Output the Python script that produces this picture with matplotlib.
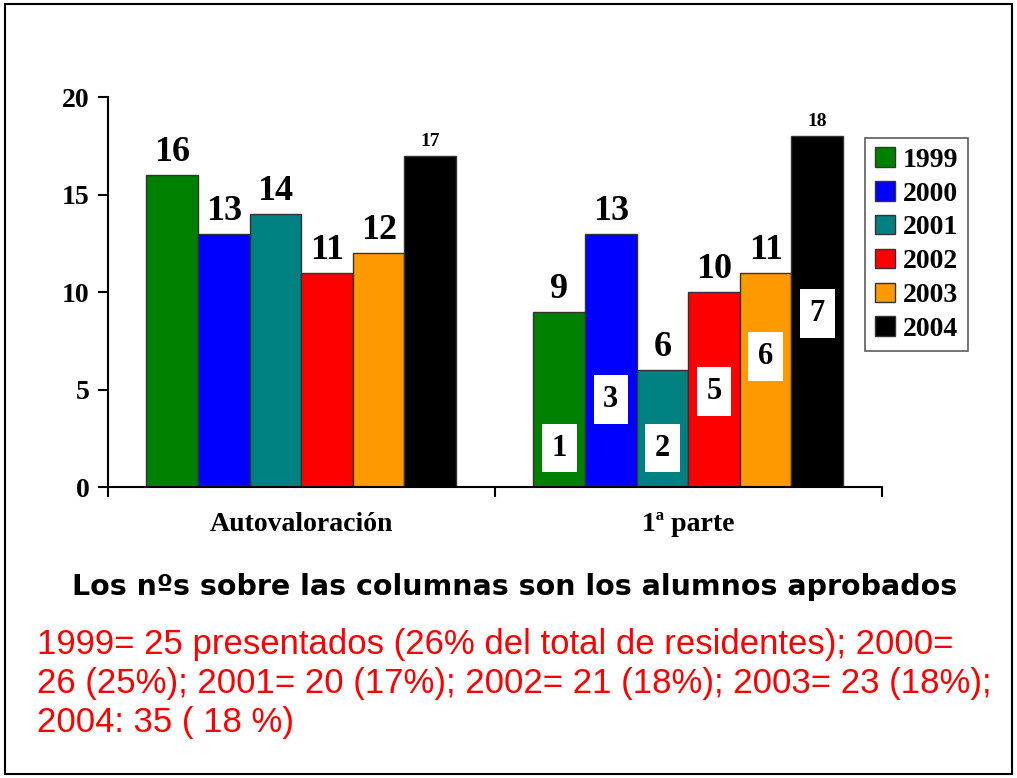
import matplotlib.pyplot as plt
from matplotlib.patches import Rectangle
import numpy as np

categories = ['Autovaloración', '1ª parte']
years = ['1999', '2000', '2001', '2002', '2003', '2004']
colors = ['#008000', '#0000FF', '#008080', '#FF0000', '#FF9900', '#000000']
autovaloracion = [16, 13, 14, 11, 12, 17]
primera_parte = [9, 13, 6, 10, 11, 18]
# numbers in the white boxes inside the "1a parte" bars, and their heights
box_labels = ['1', '3', '2', '5', '6', '7']
box_heights = [2.0, 4.5, 2.0, 4.9, 6.7, 8.9]

serif = 'Liberation Serif'

fig = plt.figure(figsize=(10.17, 7.78), dpi=100)
ax = fig.add_axes([0.106, 0.374, 0.761, 0.501])

width = 0.8 / len(years)
x = np.arange(len(categories))
for i, yr in enumerate(years):
    vals = [autovaloracion[i], primera_parte[i]]
    pos = x - 0.4 + width * (i + 0.5)
    ax.bar(pos, vals, width, color=colors[i], edgecolor='#333333',
           linewidth=1, label=yr)
    for p, v in zip(pos, vals):
        fs = 14 if i == 5 else 26
        ax.text(p, v + 0.3, str(v), ha='center', va='bottom',
                fontsize=fs, fontweight='bold', family=serif)
    ax.text(pos[1], box_heights[i], box_labels[i], ha='center', va='center',
            fontsize=22, fontweight='bold', family=serif,
            bbox=dict(facecolor='white', edgecolor='none', pad=7))

ax.set_xlim(-0.5, 1.5)
ax.set_ylim(0, 20)
ax.set_yticks([0, 5, 10, 15, 20])
ax.set_xticks([-0.5, 0.5, 1.5])
ax.set_xticklabels([])
ax.set_xticks(x, minor=True)
ax.set_xticklabels(categories, minor=True)
ax.tick_params(axis='x', which='minor', length=0, pad=18)
ax.tick_params(axis='x', which='major', length=7, width=1.5, direction='out')
ax.tick_params(axis='y', length=7, width=1.5, pad=6)
for lab in ax.get_yticklabels() + ax.get_xticklabels(minor=True):
    lab.set_family(serif)
    lab.set_fontweight('bold')
    lab.set_fontsize(20)
for s in ['top', 'right']:
    ax.spines[s].set_visible(False)
for s in ['left', 'bottom']:
    ax.spines[s].set_linewidth(1.5)

leg = fig.legend(loc='upper left', bbox_to_anchor=(0.851, 0.823),
                 prop={'family': serif, 'weight': 'bold', 'size': 20},
                 frameon=True, fancybox=False, edgecolor='#333333',
                 handlelength=0.7, handleheight=0.7, handletextpad=0.3,
                 labelspacing=0.3, borderpad=0.35, borderaxespad=0)
leg.get_frame().set_linewidth(1.2)

fig.text(0.506, 0.245, 'Los nºs sobre las columnas son los alumnos aprobados',
         ha='center', va='center', fontsize=20.5, fontweight='bold',
         family='DejaVu Sans')
red_lines = ['1999= 25 presentados (26% del total de residentes); 2000=',
             '26 (25%); 2001= 20 (17%); 2002= 21 (18%); 2003= 23 (18%);',
             '2004: 35 ( 18 %)']
for k, line in enumerate(red_lines):
    fig.text(0.036, 0.171 - k * 0.05, line, ha='left', va='center',
             fontsize=25, color='#FF0000', family='Liberation Sans')

fig.patches.append(Rectangle((0.005, 0.005), 0.99, 0.99, transform=fig.transFigure,
                             fill=False, edgecolor='black', linewidth=1.5))

fig.savefig('out.png', dpi=100)
